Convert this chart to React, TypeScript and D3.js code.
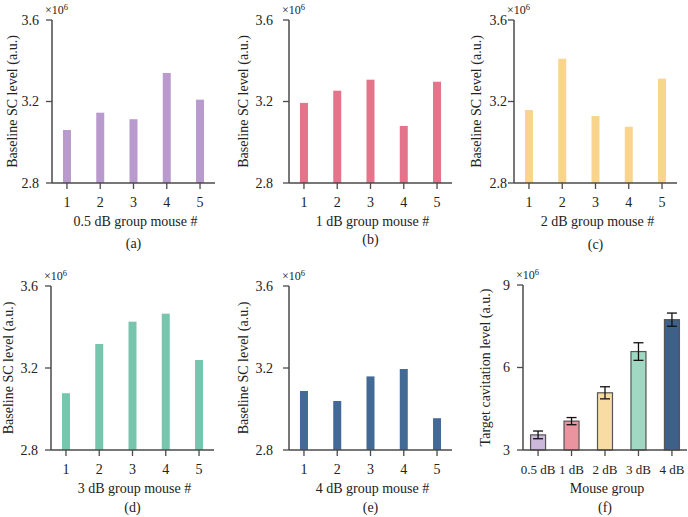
import * as d3 from 'd3';

const mice = ['1', '2', '3', '4', '5'];
const group05 = [3.06, 3.145, 3.113, 3.34, 3.209];
const group1 = [3.193, 3.253, 3.307, 3.08, 3.297];
const group2 = [3.158, 3.41, 3.129, 3.076, 3.312];
const group3 = [3.077, 3.317, 3.426, 3.465, 3.239];
const group4 = [3.088, 3.039, 3.159, 3.195, 2.955];
const groupNames = ['0.5 dB', '1 dB', '2 dB', '3 dB', '4 dB'];
const targetMean = [3.55, 4.05, 5.08, 6.58, 7.74];
const targetErr = [0.14, 0.13, 0.22, 0.32, 0.24];
const baselineTicks = [2.8, 3.2, 3.6];
const targetTicks = [3, 6, 9];

const FONT = '"Liberation Serif", "Times New Roman", serif';
const AXIS = '#4a4a4a';

type PanelProps = {
  x0: number; x1: number; yTop: number; yBot: number;
  cats: string[]; values: number[]; errs?: number[];
  fills: string[]; stroke?: string; barW: number; catSize?: number;
  ticks: number[]; fmt: string; yLabel: string; yLabelX: number;
  xLabel: string; tag: string; tagY: number; tickLabelX: number;
};

function Panel(p: PanelProps) {
  const x = d3.scalePoint<string>().domain(p.cats).range([p.x0, p.x1]).padding(0.45);
  const y = d3.scaleLinear().domain([p.ticks[0], p.ticks[p.ticks.length - 1]]).range([p.yBot, p.yTop]);
  const f = d3.format(p.fmt);
  const mid = (p.x0 + p.x1) / 2;
  const midY = (p.yTop + p.yBot) / 2;
  return (
    <g fontFamily={FONT} fill="#222">
      {p.values.map((v, i) => (
        <rect key={i} x={x(p.cats[i])! - p.barW / 2} y={y(v)} width={p.barW} height={p.yBot - y(v)}
          fill={p.fills[i % p.fills.length]} stroke={p.stroke || 'none'} strokeWidth={p.stroke ? 1.2 : 0} />
      ))}
      {p.errs && p.values.map((v, i) => {
        const cx = x(p.cats[i])!;
        const e = p.errs![i];
        return (
          <g key={'e' + i} stroke="#111" strokeWidth={1.3}>
            <line x1={cx} x2={cx} y1={y(v + e)} y2={y(v - e)} />
            <line x1={cx - 5} x2={cx + 5} y1={y(v + e)} y2={y(v + e)} />
            <line x1={cx - 5} x2={cx + 5} y1={y(v - e)} y2={y(v - e)} />
          </g>
        );
      })}
      <line x1={p.x0} x2={p.x0} y1={p.yTop} y2={p.yBot} stroke={AXIS} strokeWidth={1.5} />
      <line x1={p.x0} x2={p.x1} y1={p.yBot} y2={p.yBot} stroke={AXIS} strokeWidth={1.5} />
      {p.ticks.map(t => (
        <g key={t}>
          <line x1={p.x0 - 6} x2={p.x0} y1={y(t)} y2={y(t)} stroke={AXIS} strokeWidth={1.3} />
          <text x={p.tickLabelX} y={y(t)} dy="0.35em" textAnchor="end" fontSize={14}>{f(t)}</text>
        </g>
      ))}
      {p.cats.map(c => (
        <g key={c}>
          <line x1={x(c)} x2={x(c)} y1={p.yBot} y2={p.yBot + 6} stroke={AXIS} strokeWidth={1.3} />
          <text x={x(c)} y={p.yBot + 19} dy="0.35em" textAnchor="middle" fontSize={p.catSize || 14}>{c}</text>
        </g>
      ))}
      <text x={p.x0 - 7} y={p.yTop - 6} fontSize={12}>×10<tspan dy={-4} fontSize={8.5}>6</tspan></text>
      <text transform={`translate(${p.yLabelX},${midY}) rotate(-90)`} textAnchor="middle" dy="0.35em" fontSize={14}>{p.yLabel}</text>
      <text x={mid + 2} y={p.yBot + 38} dy="0.35em" textAnchor="middle" fontSize={14}>{p.xLabel}</text>
      <text x={mid} y={p.tagY} dy="0.35em" textAnchor="middle" fontSize={14}>{p.tag}</text>
    </g>
  );
}

export default function App() {
  const base = 'Baseline SC level (a.u.)';
  return (
    <svg width={688} height={517} style={{ position: 'absolute', left: 0, top: 0, background: '#fff' }}>
      <Panel x0={52} x1={215} yTop={20} yBot={183} cats={mice} values={group05} fills={['#b99acd']} barW={8}
        ticks={baselineTicks} fmt=".1f" yLabel={base} yLabelX={12} tickLabelX={39} xLabel="0.5 dB group mouse #" tag="(a)" tagY={243} />
      <Panel x0={289} x1={452} yTop={20} yBot={183} cats={mice} values={group1} fills={['#e37489']} barW={8}
        ticks={baselineTicks} fmt=".1f" yLabel={base} yLabelX={243} tickLabelX={273} xLabel="1 dB group mouse #" tag="(b)" tagY={239} />
      <Panel x0={514} x1={677} yTop={20} yBot={183} cats={mice} values={group2} fills={['#f9d48d']} barW={8}
        ticks={baselineTicks} fmt=".1f" yLabel={base} yLabelX={476} tickLabelX={507} xLabel="2 dB group mouse #" tag="(c)" tagY={244} />
      <Panel x0={51} x1={214} yTop={286} yBot={450} cats={mice} values={group3} fills={['#78c5ae']} barW={8}
        ticks={baselineTicks} fmt=".1f" yLabel={base} yLabelX={8} tickLabelX={38} xLabel="3 dB group mouse #" tag="(d)" tagY={507} />
      <Panel x0={289} x1={452} yTop={286} yBot={450} cats={mice} values={group4} fills={['#426a94']} barW={8}
        ticks={baselineTicks} fmt=".1f" yLabel={base} yLabelX={243} tickLabelX={273} xLabel="4 dB group mouse #" tag="(e)" tagY={507} />
      <Panel x0={523} x1={687} yTop={285} yBot={450} cats={groupNames} values={targetMean} errs={targetErr}
        fills={['#cbb8da', '#e9949f', '#f9dca3', '#a0d8c3', '#3e6089']} stroke="#555" barW={15} catSize={13}
        ticks={targetTicks} fmt="d" yLabel="Target cavitation level (a.u.)" yLabelX={485} tickLabelX={510} xLabel="Mouse group" tag="(f)" tagY={507} />
    </svg>
  );
}
